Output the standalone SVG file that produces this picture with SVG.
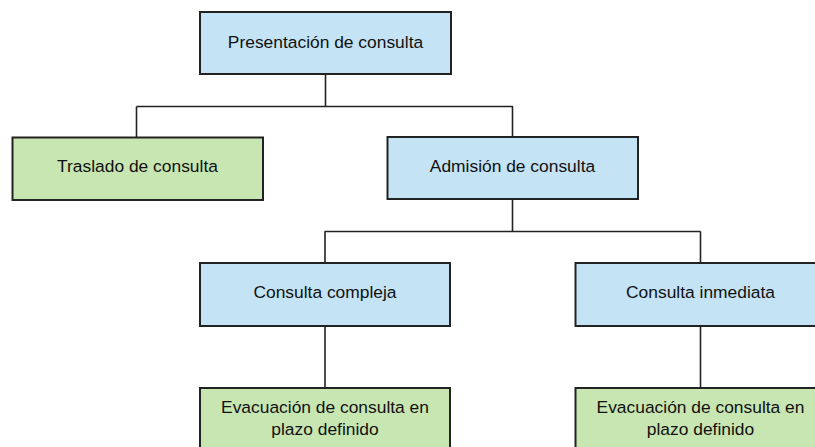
<svg xmlns="http://www.w3.org/2000/svg" width="815" height="447" viewBox="0 0 815 447">
<style>
.blue{fill:#c4e3f5;stroke:#222;stroke-width:2}
.green{fill:#c8e6b1;stroke:#222;stroke-width:2}
text{font-family:"Liberation Sans",Arial,sans-serif;font-size:17.4px;fill:#111;text-anchor:middle}
.c{fill:none;stroke:#222;stroke-width:1.6}
</style>
<rect width="815" height="447" fill="#fff"/>
<g id="connectors">
<path class="c" d="M325.5 74V106.5M136.5 106.5H513M136.5 106.5V137.5M512.5 106.5V137M512.5 199V231.5M324.5 231.5H700.5M325 231.5V263M700.5 231.5V263M325 326V388M700.5 326V388"/>
</g>
<g id="presentacion"><rect class="blue" x="200" y="12" width="251" height="62"/><text x="325.5" y="48">Presentación de consulta</text></g>
<g id="traslado"><rect class="green" x="12.5" y="137.5" width="250.5" height="62.5"/><text x="137.5" y="172">Traslado de consulta</text></g>
<g id="admision"><rect class="blue" x="387.5" y="137" width="250.5" height="62"/><text x="512.5" y="172">Admisión de consulta</text></g>
<g id="compleja"><rect class="blue" x="200" y="263" width="250" height="63"/><text x="325" y="298">Consulta compleja</text></g>
<g id="inmediata"><rect class="blue" x="575.5" y="263" width="250" height="63"/><text x="700.5" y="298">Consulta inmediata</text></g>
<g id="evac1"><rect class="green" x="200" y="388" width="250" height="70"/><text x="325" y="413">Evacuación de consulta en</text><text x="325" y="434.5">plazo definido</text></g>
<g id="evac2"><rect class="green" x="575.5" y="388" width="250" height="70"/><text x="700.5" y="413">Evacuación de consulta en</text><text x="700.5" y="434.5">plazo definido</text></g>
</svg>
